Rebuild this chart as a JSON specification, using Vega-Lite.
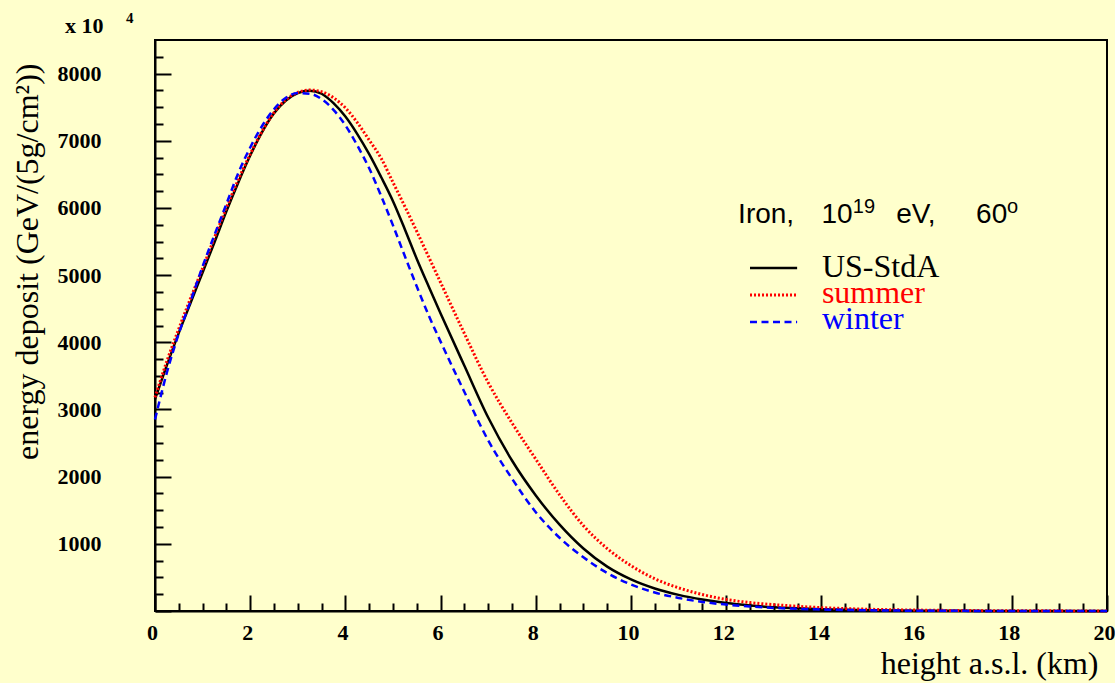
{
  "$schema": "https://vega.github.io/schema/vega-lite/v6.json",
  "width": 952,
  "height": 571,
  "autosize": {"type": "none"},
  "padding": {"left": 155, "top": 40, "right": 8, "bottom": 72},
  "background": "#ffffcc",
  "config": {
    "view": {"stroke": "black", "strokeWidth": 2, "fill": "#ffffcc"},
    "font": "Liberation Serif"
  },
  "datasets": {
    "profiles": [
      {"h": 0, "US-StdA": 3150, "summer": 3180, "winter": 2850},
      {"h": 0.25, "US-StdA": 3660, "summer": 3720, "winter": 3550},
      {"h": 0.5, "US-StdA": 4140, "summer": 4200, "winter": 4130},
      {"h": 0.75, "US-StdA": 4590, "summer": 4660, "winter": 4620},
      {"h": 1.0, "US-StdA": 5040, "summer": 5100, "winter": 5130},
      {"h": 1.25, "US-StdA": 5490, "summer": 5560, "winter": 5600},
      {"h": 1.5, "US-StdA": 5950, "summer": 6000, "winter": 6060},
      {"h": 1.75, "US-StdA": 6380, "summer": 6420, "winter": 6520},
      {"h": 2.0, "US-StdA": 6780, "summer": 6800, "winter": 6900},
      {"h": 2.25, "US-StdA": 7130, "summer": 7140, "winter": 7220},
      {"h": 2.5, "US-StdA": 7410, "summer": 7420, "winter": 7470},
      {"h": 2.75, "US-StdA": 7600, "summer": 7610, "winter": 7640},
      {"h": 3.0, "US-StdA": 7710, "summer": 7720, "winter": 7710},
      {"h": 3.25, "US-StdA": 7745, "summer": 7755, "winter": 7700},
      {"h": 3.5, "US-StdA": 7700, "summer": 7730, "winter": 7620},
      {"h": 3.75, "US-StdA": 7560, "summer": 7640, "winter": 7460},
      {"h": 4.0, "US-StdA": 7360, "summer": 7490, "winter": 7230},
      {"h": 4.25, "US-StdA": 7100, "summer": 7270, "winter": 6930},
      {"h": 4.5, "US-StdA": 6800, "summer": 7010, "winter": 6590},
      {"h": 4.75, "US-StdA": 6460, "summer": 6740, "winter": 6180},
      {"h": 5.0, "US-StdA": 6100, "summer": 6380, "winter": 5740},
      {"h": 5.25, "US-StdA": 5680, "summer": 6020, "winter": 5280},
      {"h": 5.5, "US-StdA": 5240, "summer": 5650, "winter": 4830},
      {"h": 5.75, "US-StdA": 4830, "summer": 5270, "winter": 4400},
      {"h": 6.0, "US-StdA": 4430, "summer": 4890, "winter": 4010},
      {"h": 6.5, "US-StdA": 3650, "summer": 4130, "winter": 3260},
      {"h": 7.0, "US-StdA": 2880, "summer": 3400, "winter": 2540},
      {"h": 7.5, "US-StdA": 2240, "summer": 2800, "winter": 1970},
      {"h": 8.0, "US-StdA": 1720, "summer": 2260, "winter": 1470},
      {"h": 8.5, "US-StdA": 1285, "summer": 1730, "winter": 1090},
      {"h": 9.0, "US-StdA": 930, "summer": 1270, "winter": 800},
      {"h": 9.5, "US-StdA": 660, "summer": 930, "winter": 565},
      {"h": 10.0, "US-StdA": 470, "summer": 675, "winter": 395},
      {"h": 10.5, "US-StdA": 335, "summer": 480, "winter": 275},
      {"h": 11.0, "US-StdA": 240, "summer": 345, "winter": 195},
      {"h": 11.5, "US-StdA": 170, "summer": 245, "winter": 135},
      {"h": 12.0, "US-StdA": 118, "summer": 172, "winter": 95},
      {"h": 12.5, "US-StdA": 82, "summer": 125, "winter": 67},
      {"h": 13.0, "US-StdA": 57, "summer": 95, "winter": 46},
      {"h": 13.5, "US-StdA": 40, "summer": 70, "winter": 32},
      {"h": 14.0, "US-StdA": 27, "summer": 50, "winter": 22},
      {"h": 14.5, "US-StdA": 18, "summer": 36, "winter": 15},
      {"h": 15, "US-StdA": 12, "summer": 26, "winter": 10},
      {"h": 16, "US-StdA": 5, "summer": 14, "winter": 4},
      {"h": 17, "US-StdA": 2, "summer": 7, "winter": 2},
      {"h": 18, "US-StdA": 1, "summer": 4, "winter": 1},
      {"h": 19, "US-StdA": 0, "summer": 2, "winter": 0},
      {"h": 20, "US-StdA": 0, "summer": 1, "winter": 0}
    ]
  },
  "resolve": {"axis": {"x": "independent", "y": "independent"}},
  "layer": [
    {
      "data": {"name": "profiles"},
      "mark": {"type": "line", "color": "black", "strokeWidth": 2.5, "interpolate": "monotone"},
      "encoding": {
        "x": {
          "field": "h", "type": "quantitative",
          "scale": {"domain": [0, 20], "nice": false, "zero": false},
          "axis": {
            "orient": "bottom",
            "values": [0, 2, 4, 6, 8, 10, 12, 14, 16, 18, 20],
            "grid": false,
            "domainColor": "black", "domainWidth": 2,
            "tickColor": "black", "tickWidth": 2, "tickSize": -16,
            "labelFont": "Liberation Serif", "labelFontWeight": "bold", "labelFontSize": 22,
            "labelColor": "black", "labelPadding": 27, "labelOffset": -3,
            "labelFlush": false, "labelOverlap": false, "labelBound": false,
            "title": "height a.s.l. (km)",
            "titleFont": "Liberation Serif", "titleFontWeight": "normal", "titleFontSize": 32,
            "titleColor": "black", "titleAlign": "right", "titleBaseline": "alphabetic",
            "titleAnchor": "end", "titleX": 943, "titleY": 62
          }
        },
        "y": {
          "field": "US-StdA", "type": "quantitative",
          "scale": {"domain": [0, 8500], "nice": false},
          "axis": {
            "orient": "left",
            "values": [0, 1000, 2000, 3000, 4000, 5000, 6000, 7000, 8000],
            "format": "d",
            "grid": false,
            "domainColor": "black", "domainWidth": 2,
            "tickColor": "black", "tickWidth": 2, "tickSize": -16,
            "labelExpr": "datum.value > 0 ? datum.label : ''",
            "labelFont": "Liberation Serif", "labelFontWeight": "bold", "labelFontSize": 22,
            "labelColor": "black", "labelPadding": 70,
            "labelFlush": false, "labelOverlap": false, "labelBound": false,
            "title": "energy deposit (GeV/(5g/cm²))",
            "titleFont": "Liberation Serif", "titleFontWeight": "normal", "titleFontSize": 32,
            "titleColor": "black", "titleAngle": 270, "titleAlign": "right", "titleBaseline": "alphabetic",
            "titleAnchor": "end", "titleX": -118, "titleY": 23
          }
        }
      }
    },
    {
      "data": {"name": "profiles"},
      "mark": {"type": "line", "color": "#ff0000", "strokeWidth": 3, "strokeDash": [2, 2], "interpolate": "monotone"},
      "encoding": {
        "x": {"field": "h", "type": "quantitative", "axis": null},
        "y": {"field": "summer", "type": "quantitative", "axis": null}
      }
    },
    {
      "data": {"name": "profiles"},
      "mark": {"type": "line", "color": "#0000ff", "strokeWidth": 2.5, "strokeDash": [7, 4.5], "interpolate": "monotone"},
      "encoding": {
        "x": {"field": "h", "type": "quantitative", "axis": null},
        "y": {"field": "winter", "type": "quantitative", "axis": null}
      }
    },
    {
      "data": {"values": [{"t": "x 10"}]},
      "mark": {"type": "text", "font": "Liberation Serif", "fontWeight": "bold", "fontSize": 22, "align": "left", "baseline": "alphabetic", "color": "black"},
      "encoding": {
        "x": {
          "datum": -1.89,
          "axis": {
            "orient": "bottom",
            "values": [0.5,1,1.5,2.5,3,3.5,4.5,5,5.5,6.5,7,7.5,8.5,9,9.5,10.5,11,11.5,12.5,13,13.5,14.5,15,15.5,16.5,17,17.5,18.5,19,19.5],
            "grid": false, "domain": false, "labels": false, "title": null,
            "tickColor": "black", "tickWidth": 2, "tickSize": -8
          }
        },
        "y": {
          "datum": 8604,
          "axis": {
            "orient": "left",
            "values": [250,500,750,1250,1500,1750,2250,2500,2750,3250,3500,3750,4250,4500,4750,5250,5500,5750,6250,6500,6750,7250,7500,7750,8250],
            "grid": false, "domain": false, "labels": false, "title": null,
            "tickColor": "black", "tickWidth": 2, "tickSize": -8
          }
        },
        "text": {"field": "t"}
      }
    },
    {
      "data": {"values": [{"t": "4"}]},
      "mark": {"type": "text", "font": "Liberation Serif", "fontWeight": "bold", "fontSize": 15, "align": "left", "baseline": "alphabetic", "color": "black"},
      "encoding": {"x": {"datum": -0.61, "axis": null}, "y": {"datum": 8753, "axis": null}, "text": {"field": "t"}}
    },
    {
      "data": {"values": [{"t": "Iron,"}]},
      "mark": {"type": "text", "font": "Liberation Sans", "fontSize": 28, "align": "left", "baseline": "alphabetic", "color": "black"},
      "encoding": {"x": {"datum": 12.25, "axis": null}, "y": {"datum": 5776, "axis": null}, "text": {"field": "t"}}
    },
    {
      "data": {"values": [{"t": "10"}]},
      "mark": {"type": "text", "font": "Liberation Sans", "fontSize": 28, "align": "left", "baseline": "alphabetic", "color": "black"},
      "encoding": {"x": {"datum": 14.0, "axis": null}, "y": {"datum": 5776, "axis": null}, "text": {"field": "t"}}
    },
    {
      "data": {"values": [{"t": "19"}]},
      "mark": {"type": "text", "font": "Liberation Sans", "fontSize": 20, "align": "left", "baseline": "alphabetic", "color": "black"},
      "encoding": {"x": {"datum": 14.66, "axis": null}, "y": {"datum": 5925, "axis": null}, "text": {"field": "t"}}
    },
    {
      "data": {"values": [{"t": "eV,"}]},
      "mark": {"type": "text", "font": "Liberation Sans", "fontSize": 28, "align": "left", "baseline": "alphabetic", "color": "black"},
      "encoding": {"x": {"datum": 15.57, "axis": null}, "y": {"datum": 5776, "axis": null}, "text": {"field": "t"}}
    },
    {
      "data": {"values": [{"t": "60"}]},
      "mark": {"type": "text", "font": "Liberation Sans", "fontSize": 28, "align": "left", "baseline": "alphabetic", "color": "black"},
      "encoding": {"x": {"datum": 17.25, "axis": null}, "y": {"datum": 5776, "axis": null}, "text": {"field": "t"}}
    },
    {
      "data": {"values": [{"t": "o"}]},
      "mark": {"type": "text", "font": "Liberation Sans", "fontSize": 20, "align": "left", "baseline": "alphabetic", "color": "black"},
      "encoding": {"x": {"datum": 17.9, "axis": null}, "y": {"datum": 5925, "axis": null}, "text": {"field": "t"}}
    },
    {
      "data": {"values": [{"series": "US-StdA"}]},
      "mark": {"type": "rule", "color": "black", "strokeWidth": 2.5},
      "encoding": {"x": {"datum": 12.5, "axis": null}, "x2": {"datum": 13.49}, "y": {"datum": 5106, "axis": null}}
    },
    {
      "data": {"values": [{"series": "summer"}]},
      "mark": {"type": "rule", "color": "#ff0000", "strokeWidth": 3, "strokeDash": [2, 2]},
      "encoding": {"x": {"datum": 12.5, "axis": null}, "x2": {"datum": 13.49}, "y": {"datum": 4704, "axis": null}}
    },
    {
      "data": {"values": [{"series": "winter"}]},
      "mark": {"type": "rule", "color": "#0000ff", "strokeWidth": 2.5, "strokeDash": [7, 4.5]},
      "encoding": {"x": {"datum": 12.5, "axis": null}, "x2": {"datum": 13.49}, "y": {"datum": 4302, "axis": null}}
    },
    {
      "data": {"values": [{"series": "US-StdA"}]},
      "mark": {"type": "text", "font": "Liberation Serif", "fontSize": 32, "align": "left", "baseline": "alphabetic", "color": "black"},
      "encoding": {"x": {"datum": 14.01, "axis": null}, "y": {"datum": 4972, "axis": null}, "text": {"field": "series"}}
    },
    {
      "data": {"values": [{"series": "summer"}]},
      "mark": {"type": "text", "font": "Liberation Serif", "fontSize": 32, "align": "left", "baseline": "alphabetic", "color": "#ff0000"},
      "encoding": {"x": {"datum": 14.01, "axis": null}, "y": {"datum": 4585, "axis": null}, "text": {"field": "series"}}
    },
    {
      "data": {"values": [{"series": "winter"}]},
      "mark": {"type": "text", "font": "Liberation Serif", "fontSize": 32, "align": "left", "baseline": "alphabetic", "color": "#0000ff"},
      "encoding": {"x": {"datum": 14.01, "axis": null}, "y": {"datum": 4198, "axis": null}, "text": {"field": "series"}}
    }
  ]
}
